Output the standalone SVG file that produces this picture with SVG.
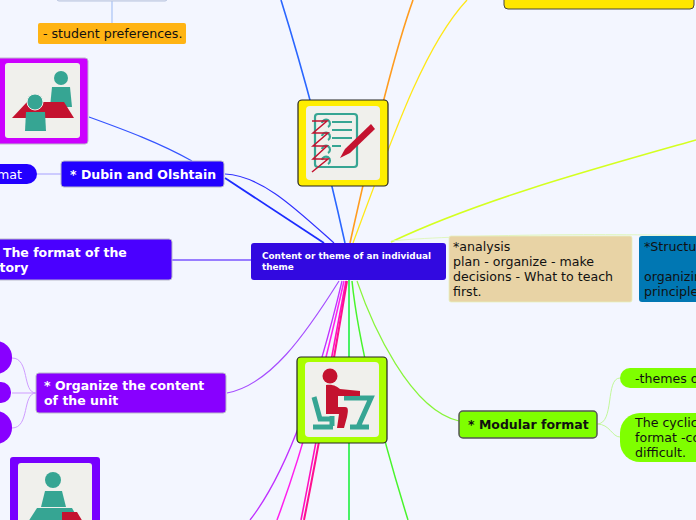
<svg xmlns="http://www.w3.org/2000/svg" width="696" height="520" viewBox="0 0 696 520">
<style>
text{font-family:"DejaVu Sans",sans-serif}
.b{font-size:12.5px;font-weight:bold;fill:#fff}
.n{font-size:12.6px;fill:#111}
.c{fill:none}
.inner{fill:#f0f0ec}
.teal{fill:#36a593}
.red{fill:#c4122f}
.tl{fill:none;stroke:#36a593;stroke-width:2.2}
.ts{fill:none;stroke:#36a593;stroke-width:5}
.shadow{stroke:#b9b9c9;stroke-width:1}
</style>
<rect width="696" height="520" fill="#f3f6ff"/>
<g id="connectors" class="c">
<path d="M112 1V23" stroke="#a9c4f5" stroke-width="1.2"/>
<path d="M281 0C295 45 320 130 345 243" stroke="#2a66ff" stroke-width="1.6"/>
<path d="M413 0C395 50 375 130 350 243" stroke="#ff9c1f" stroke-width="1.6"/>
<path d="M467 0C425 45 395 130 353 243" stroke="#ffe818" stroke-width="1.3"/>
<path d="M696 140C590 170 480 200 391 242" stroke="#d4ff20" stroke-width="1.5"/>
<path d="M391 241C450 235 600 233 696 236" stroke="#e0f6c0" stroke-width="1"/>
<path d="M89 117C125 130 160 143 192 161" stroke="#3554ff" stroke-width="1.2"/>
<path d="M225 174C262 176 295 208 334 243" stroke="#3030ff" stroke-width="1.2"/>
<path d="M225 178L324 243" stroke="#1c2cff" stroke-width="1.8"/>
<path d="M37 174H61" stroke="#a6a0ff" stroke-width="1"/>
<path d="M172 260H251" stroke="#7a55ff" stroke-width="1.4"/>
<path d="M227 393C270 385 305 335 339 281" stroke="#a64dff" stroke-width="1.2"/>
<path d="M12 358C30 358 22 393 36 393" stroke="#cf9cff" stroke-width="1"/>
<path d="M12 393H36" stroke="#cf9cff" stroke-width="1"/>
<path d="M12 428C30 428 22 393 36 393" stroke="#cf9cff" stroke-width="1"/>
<path d="M250 520C285 475 315 395 342 281" stroke="#c030ff" stroke-width="1.3"/>
<path d="M277 520C305 445 325 365 344 281" stroke="#ff20ee" stroke-width="1.5"/>
<path d="M301 520C315 450 330 365 346 281" stroke="#ff10c0" stroke-width="1.6"/>
<path d="M304 520C318 450 333 365 347 281" stroke="#ff1090" stroke-width="2"/>
<path d="M349 280V520" stroke="#2bf04a" stroke-width="1.7"/>
<path d="M352 281C358 340 380 430 408 520" stroke="#49f42c" stroke-width="1.5"/>
<path d="M357 281C372 325 410 410 459 421" stroke="#88f53a" stroke-width="1.2"/>
<path d="M597 424C615 424 605 378 620 378" stroke="#c2f89a" stroke-width="1"/>
<path d="M597 424C610 424 612 437 620 437" stroke="#c2f89a" stroke-width="1"/>
</g>
<g id="node-top"><rect x="57" y="-20" width="110" height="21" rx="2" fill="#e4e7f2" stroke="#b8c4e0"/></g>
<g id="node-preferences"><rect x="38" y="23" width="148" height="21" rx="2" fill="#ffb414"/><text class="n" x="43" y="38">- student preferences.</text></g>
<g id="node-icon-pair">
<rect x="-10" y="58" width="98" height="86" rx="3" fill="#cc00ff" class="shadow"/>
<rect x="5" y="63" width="75" height="75" rx="3" class="inner"/>
<circle cx="61" cy="78" r="7" class="teal"/>
<path d="M52 87H70L72 107H50Z" class="teal"/>
<path d="M12 118L27 102H64L74 118Z" class="red"/>
<circle cx="35" cy="102" r="8" class="teal" stroke="#f0f0ec"/>
<path d="M26 112H45L46 131H25Z" class="teal"/>
</g>
<g id="node-dubin"><rect x="61" y="161" width="163" height="26" rx="3" fill="#2200ff" class="shadow"/><text class="b" x="70" y="179">* Dubin and Olshtain</text></g>
<g id="node-format"><rect x="-40" y="164" width="77" height="20" rx="10" fill="#2200ff"/><text x="-3" y="179" font-size="12.6" fill="#fff">mat</text></g>
<g id="node-story"><rect x="-20" y="239" width="192" height="41" rx="3" fill="#4a00ff" class="shadow"/><text class="b" x="-8" y="257">* The format of the</text><text class="b" x="-8" y="272">story</text></g>
<g id="node-center"><rect x="251" y="243" width="195" height="37" rx="3" fill="#3209e0"/><text x="262" y="259" font-size="8.9" font-weight="bold" fill="#fff">Content or theme of an individual</text><text x="262" y="270" font-size="8.9" font-weight="bold" fill="#fff">theme</text></g>
<g id="node-analysis"><rect x="449" y="236" width="183" height="66" rx="2" fill="#e8d3a5" stroke="#e6f3c0" stroke-width="0.8"/><text class="n" x="453" y="251">*analysis</text><text class="n" x="453" y="266">plan - organize - make</text><text class="n" x="453" y="281">decisions - What to teach</text><text class="n" x="453" y="296">first.</text></g>
<g id="node-structure"><rect x="639" y="236" width="80" height="66" rx="3" fill="#0077b3"/><text class="n" x="644" y="251">*Structure</text><text class="n" x="644" y="281">organizing</text><text class="n" x="644" y="296">principles</text></g>
<g id="node-yellow"><rect x="504" y="-20" width="190" height="29" rx="4" fill="#ffe600" stroke="#444" stroke-width="1"/></g>
<g id="node-icon-notes">
<rect x="298" y="100" width="90" height="86" rx="4" fill="#ffee00" stroke="#222" stroke-width="1.2"/>
<rect x="306" y="106" width="74" height="74" rx="4" class="inner"/>
<rect x="315" y="114" width="42" height="53" rx="3" class="tl"/>
<path d="M332 122H352M332 130H352M332 138H352M332 146H341" stroke="#36a593" stroke-width="2.2" fill="none"/>
<path d="M322 123a4 4 0 1 1 6 4M322 136a4 4 0 1 1 6 4M322 149a4 4 0 1 1 6 4M322 160a4 4 0 1 1 6 4" class="tl"/>
<path d="M312 121H327L313 133H328L313 146H327L313 159H328L312 172" fill="none" stroke="#c4122f" stroke-width="1.5"/>
<path d="M340 158L345 149L371 124L375 129L350 153Z" class="red"/>
</g>
<g id="node-organize"><rect x="36" y="373" width="190" height="40" rx="3" fill="#8800ff" class="shadow"/><text class="b" x="44" y="390">* Organize the content</text><text class="b" x="44" y="405">of the unit</text></g>
<g id="node-left-1"><rect x="-40" y="341" width="52" height="33" rx="16" fill="#8800ff"/></g>
<g id="node-left-2"><rect x="-40" y="382" width="51" height="21" rx="10" fill="#8800ff"/></g>
<g id="node-left-3"><rect x="-40" y="411" width="52" height="33" rx="16" fill="#8800ff"/></g>
<g id="node-icon-teacher">
<rect x="10" y="457" width="90" height="80" rx="3" fill="#7700ff"/>
<rect x="18" y="463" width="74" height="70" rx="3" class="inner"/>
<circle cx="53" cy="480" r="8" class="teal"/>
<path d="M45 491H62L66 507H41Z" class="teal"/>
<path d="M37 508H72L80 522H28Z" class="teal"/>
<path d="M62 512H77L83 522H62Z" class="red"/>
</g>
<g id="node-icon-desk">
<rect x="297" y="357" width="90" height="86" rx="4" fill="#aaff00" stroke="#222" stroke-width="1.2"/>
<rect x="305" y="362" width="74" height="75" rx="4" class="inner"/>
<path d="M314 397L320 419H332M332 416V426M313 427H333M344 398H371L358 427M350 427H369" class="ts"/>
<circle cx="330" cy="376" r="7.5" class="red"/>
<path d="M326 385C334 384 337 387 340 389L360 391V396L338 396V407H345C349 407 348 412 347 417L344 428H337L339 414H326Z" class="red"/>
</g>
<g id="node-modular"><rect x="459" y="411" width="138" height="27" rx="4" fill="#7fff00" stroke="#555" stroke-width="1.5"/><text x="468" y="429" font-size="12.5" font-weight="bold" fill="#111">* Modular format</text></g>
<g id="node-themes"><rect x="620" y="368" width="100" height="20" rx="10" fill="#7fff00"/><text class="n" x="635" y="383">-themes of</text></g>
<g id="node-cyclic"><rect x="620" y="413" width="100" height="49" rx="20" fill="#7fff00"/><text class="n" x="635" y="427">The cyclic</text><text class="n" x="635" y="442">format -co</text><text class="n" x="635" y="457">difficult.</text></g>
</svg>
